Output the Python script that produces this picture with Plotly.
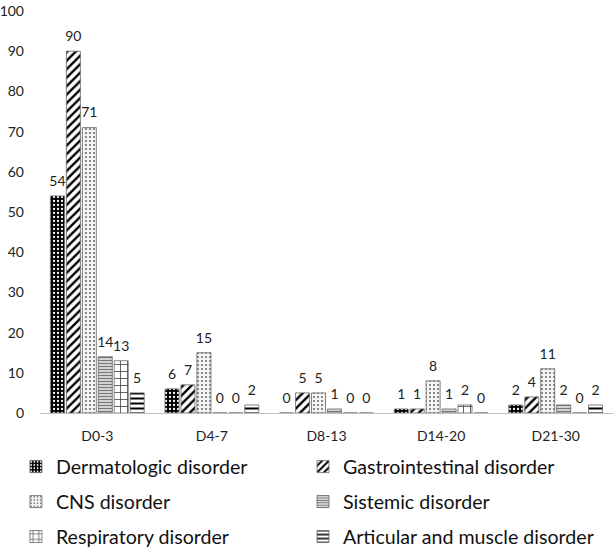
import plotly.graph_objects as go

categories = ["D0-3", "D4-7", "D8-13", "D14-20", "D21-30"]
series_names = ["Dermatologic disorder", "Gastrointestinal disorder", "CNS disorder",
                "Sistemic disorder", "Respiratory disorder", "Articular and muscle disorder"]
dermatologic = [54, 6, 0, 1, 2]
gastrointestinal = [90, 7, 5, 1, 4]
cns = [71, 15, 5, 8, 11]
sistemic = [14, 0, 1, 1, 2]
respiratory = [13, 0, 0, 2, 0]
articular = [5, 2, 0, 0, 2]
y_ticks = list(range(0, 101, 10))

values = [dermatologic, gastrointestinal, cns, sistemic, respiratory, articular]
patterns = [
    dict(shape=".", bgcolor="#000000", fgcolor="#ffffff", size=4, solidity=0.25, fillmode="replace"),
    dict(shape="/", bgcolor="#ffffff", fgcolor="#000000", size=6, solidity=0.4, fillmode="replace"),
    dict(shape=".", bgcolor="#f4f4f4", fgcolor="#666666", size=4, solidity=0.2, fillmode="replace"),
    dict(shape="-", bgcolor="#ffffff", fgcolor="#777777", size=3, solidity=0.55, fillmode="replace"),
    dict(shape="+", bgcolor="#ffffff", fgcolor="#333333", size=7, solidity=0.2, fillmode="replace"),
    dict(shape="-", bgcolor="#ffffff", fgcolor="#000000", size=5, solidity=0.4, fillmode="replace"),
]
# legend slots: two columns x three rows
legend_ids = ["legend2", "legend3", "legend4", "legend5", "legend6", "legend7"]
col_x = [-0.042, 0.459]
row_y = [-0.134, -0.221, -0.308]

FONT = "Lato, Open Sans, sans-serif"
BARGAP = 0.165
fig = go.Figure()
for i, (name, vals, pat, lg) in enumerate(zip(series_names, values, patterns, legend_ids)):
    fig.add_trace(go.Bar(
        x=categories, y=vals, name=name,
        marker=dict(color=pat["bgcolor"], pattern=pat, line=dict(color="#666666", width=0.8)),
        offsetgroup=str(i), alignmentgroup="a",
        legend=lg, showlegend=True,
    ))
for i, vals in enumerate(values):
    fig.add_trace(go.Scatter(
        x=categories, y=vals, mode="text+markers", text=[str(v) for v in vals],
        textposition="top center", marker=dict(size=9, opacity=0),
        textfont=dict(size=14, color="#222222", family=FONT),
        offsetgroup=str(i), alignmentgroup="a",
        showlegend=False, hoverinfo="skip", cliponaxis=False,
    ))

legends = {}
for i, lg in enumerate(legend_ids):
    legends[lg] = dict(
        x=col_x[i % 2], y=row_y[i // 2], xanchor="left", yanchor="middle",
        orientation="h", font=dict(size=19.6, color="#111111", family=FONT),
        bgcolor="rgba(0,0,0,0)", itemwidth=30, visible=True,
    )

fig.update_layout(
    width=614, height=549,
    margin=dict(l=40, r=1, t=11, b=136, autoexpand=False),
    plot_bgcolor="white", paper_bgcolor="white",
    barmode="group", bargap=BARGAP, bargroupgap=0.12,
    scattermode="group", scattergap=BARGAP,
    showlegend=True,
    font=dict(family=FONT, size=13, color="#222222"),
    xaxis=dict(showline=True, linecolor="#bfbfbf", linewidth=1, showgrid=False,
               ticks="", tickfont=dict(size=14, family=FONT), ticklabelstandoff=10),
    yaxis=dict(range=[0, 100], tickvals=y_ticks, showgrid=False, showline=False,
               zeroline=False, ticks="", tickfont=dict(size=14, family=FONT),
               ticklabelstandoff=15),
    **legends,
)

fig.write_html("out.html", config={"displayModeBar": False},
               post_script="document.body.style.margin='0';")
